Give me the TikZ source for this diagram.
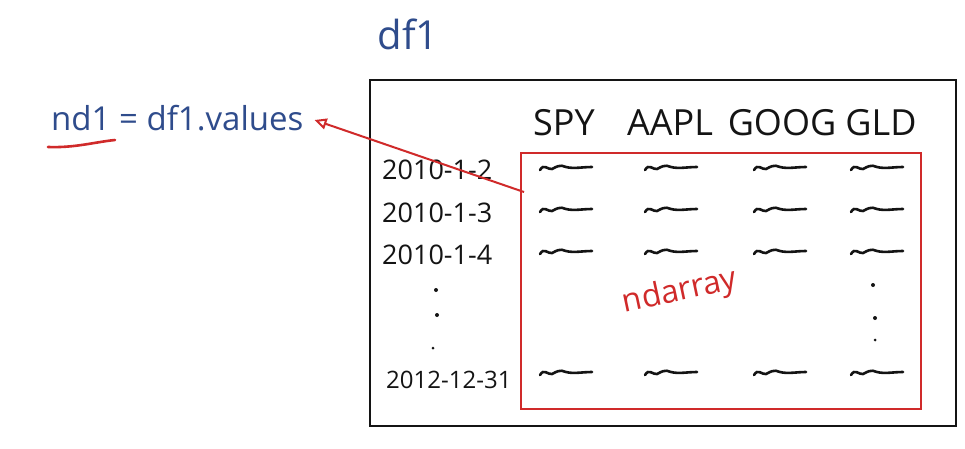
\documentclass[tikz,border=0pt]{standalone}
\usepackage{fontspec}
\setmainfont{Open Sans}
\usetikzlibrary{calc,arrows.meta}
\definecolor{inkblue}{HTML}{2F4C8C}
\definecolor{inkred}{HTML}{D02A2A}
\definecolor{inkblack}{HTML}{141414}
\tikzset{
  frame/.style={draw=inkblack, line width=2.6pt},
  redbox/.style={draw=inkred, line width=2pt, inner sep=0pt},
  bluetxt/.style={text=inkblue, inner sep=1pt},
  hdr/.style={text=inkblack, font=\fontsize{36}{36}\selectfont, inner sep=0pt},
  datetxt/.style={text=inkblack, font=\fontsize{27}{27}\selectfont, inner sep=0pt, anchor=west},
  squigline/.style={draw=inkblack, line width=2.6pt, line cap=round},
  dotmark/.style={fill=inkblack, circle, inner sep=0pt, minimum size=4pt},
  pics/squig/.style={code={
    \draw[squigline] (-26,2) .. controls (-22,-5) and (-18,2) .. (-14,1)
       .. controls (-10,-1) and (-6,-4) .. (0,-1) .. controls (8,1) and (16,-1) .. (26,-1);
  }}
}
\begin{document}
\begin{tikzpicture}[x=1pt,y=-1pt]
\useasboundingbox (0,0) rectangle (965,448);
\fill[white] (0,0) rectangle (965,448);

% labels
\node[bluetxt, font=\fontsize{40}{40}\selectfont] (df) at (408,34) {df1};
\node[bluetxt, font=\fontsize{33}{33}\selectfont, anchor=west] (eq) at (50,118) {nd1 = df1.values};
\coordinate (ul1) at (48,147);
\coordinate (ul2) at (115,140);
\draw[inkred, line width=2.6pt, line cap=round] (ul1) .. controls (75,148) and (95,142) .. (ul2);

% data frame
\node[frame, minimum width=586, minimum height=346, inner sep=0pt] (frame) at (663,253) {};

% headers
\node[hdr] (spy) at (564,123) {SPY};
\node[hdr] (aapl) at (670,123) {AAPL};
\node[hdr] (goog) at (782,123) {GOOG};
\node[hdr] (gld) at (881,123) {GLD};

% dates
\node[datetxt] (d1) at (382,170) {2010-1-2};
\node[datetxt] (d2) at (382,213) {2010-1-3};
\node[datetxt] (d3) at (382,255) {2010-1-4};
\node[datetxt, font=\fontsize{24}{24}\selectfont] (d4) at (386,380) {2012-12-31};
\node[dotmark] (v1) at (436,290) {};
\node[dotmark] (v2) at (437,315) {};
\node[dotmark, minimum size=3pt] (v3) at (433,348) {};

% squiggles
\foreach \y in {168,210,252,373} {
  \pic at (566,\y) {squig};
  \pic at (671,\y) {squig};
  \pic at (780,\y) {squig};
  \pic at (877,\y) {squig};
}
\node[dotmark] (w1) at (873,285) {};
\node[dotmark] (w2) at (875,318) {};
\node[dotmark, minimum size=3pt] (w3) at (875,340) {};

% ndarray box
\node[redbox, minimum width=400, minimum height=256] (nd) at (721,281) {};
\node[text=inkred, font=\fontsize{32}{32}\selectfont, rotate=12, inner sep=0pt] (ndl) at (680,292) {ndarray};

% arrow
\coordinate (astart) at ($(nd.north west)+(4,40)$);
\draw[inkred, line width=2pt, -{Triangle[open, length=12pt, width=11pt]}] (astart) -- ($(eq.east)+(10,2)$);
\end{tikzpicture}
\end{document}
